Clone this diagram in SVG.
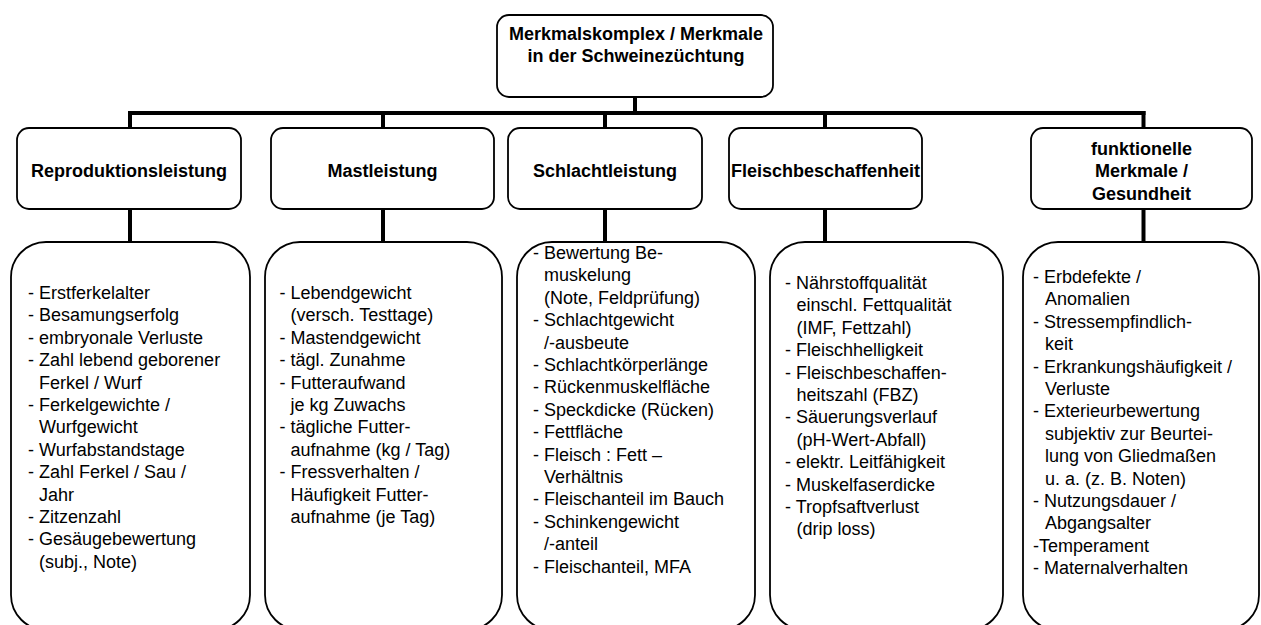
<svg xmlns="http://www.w3.org/2000/svg" width="1261" height="625" viewBox="0 0 1261 625">
  <style>
    .box { fill: #fff; stroke: #000; stroke-width: 1.8; }
    .link { stroke: #000; stroke-width: 4; fill: none; }
    .head { font-family: "Liberation Sans", Arial, sans-serif; font-size: 18px; font-weight: bold; fill: #000; text-anchor: middle; }
    .item { font-family: "Liberation Sans", Arial, sans-serif; font-size: 18px; fill: #000; }
  </style>
  <rect width="1261" height="625" fill="#fff"/>

  <!-- tree connectors -->
  <g id="connectors">
    <line class="link" x1="635" y1="97" x2="635" y2="113"/>
    <line class="link" x1="128" y1="113" x2="1145.5" y2="113"/>
    <line class="link" x1="130" y1="111" x2="130" y2="128"/>
    <line class="link" x1="383" y1="113" x2="383" y2="128"/>
    <line class="link" x1="605" y1="113" x2="605" y2="128"/>
    <line class="link" x1="825" y1="113" x2="825" y2="128"/>
    <line class="link" x1="1143.5" y1="111" x2="1143.5" y2="128"/>
    <line class="link" x1="130" y1="209" x2="130" y2="242"/>
    <line class="link" x1="383" y1="209" x2="383" y2="242"/>
    <line class="link" x1="605" y1="209" x2="605" y2="242"/>
    <line class="link" x1="825" y1="209" x2="825" y2="242"/>
    <line class="link" x1="1143.5" y1="209" x2="1143.5" y2="242"/>
  </g>

  <!-- root -->
  <g id="root">
    <rect class="box" x="497" y="15" width="276" height="82" rx="12"/>
    <text class="head"><tspan x="636" y="40">Merkmalskomplex / Merkmale</tspan><tspan x="636" y="62.4">in der Schweinezüchtung</tspan></text>
  </g>

  <!-- category headers -->
  <g id="reproduktion">
    <rect class="box" x="17" y="128" width="224" height="81" rx="12"/>
    <text class="head" x="129" y="177">Reproduktionsleistung</text>
  </g>
  <g id="mast">
    <rect class="box" x="271" y="128" width="223" height="81" rx="12"/>
    <text class="head" x="382.5" y="177">Mastleistung</text>
  </g>
  <g id="schlacht">
    <rect class="box" x="508" y="128" width="194" height="81" rx="12"/>
    <text class="head" x="605" y="177">Schlachtleistung</text>
  </g>
  <g id="fleisch">
    <rect class="box" x="729" y="128" width="193" height="81" rx="12"/>
    <text class="head" x="825.5" y="177">Fleischbeschaffenheit</text>
  </g>
  <g id="funktionell">
    <rect class="box" x="1031" y="128" width="221" height="81" rx="12"/>
    <text class="head"><tspan x="1141.5" y="155">funktionelle</tspan><tspan x="1141.5" y="177.4">Merkmale /</tspan><tspan x="1141.5" y="199.8">Gesundheit</tspan></text>
  </g>

  <!-- trait lists -->
  <g id="liste-reproduktion">
    <rect class="box" x="11" y="242" width="239" height="388" rx="35"/>
    <text class="item">
      <tspan x="28" y="299">- Erstferkelalter</tspan>
      <tspan x="28" dy="22.4">- Besamungserfolg</tspan>
      <tspan x="28" dy="22.4">- embryonale Verluste</tspan>
      <tspan x="28" dy="22.4">- Zahl lebend geborener</tspan>
      <tspan x="39" dy="22.4">Ferkel / Wurf</tspan>
      <tspan x="28" dy="22.4">- Ferkelgewichte /</tspan>
      <tspan x="39" dy="22.4">Wurfgewicht</tspan>
      <tspan x="28" dy="22.4">- Wurfabstandstage</tspan>
      <tspan x="28" dy="22.4">- Zahl Ferkel / Sau /</tspan>
      <tspan x="39" dy="22.4">Jahr</tspan>
      <tspan x="28" dy="22.4">- Zitzenzahl</tspan>
      <tspan x="28" dy="22.4">- Gesäugebewertung</tspan>
      <tspan x="39" dy="22.4">(subj., Note)</tspan>
    </text>
  </g>
  <g id="liste-mast">
    <rect class="box" x="265" y="242" width="237" height="388" rx="35"/>
    <text class="item">
      <tspan x="279.5" y="299">- Lebendgewicht</tspan>
      <tspan x="290.5" dy="22.4">(versch. Testtage)</tspan>
      <tspan x="279.5" dy="22.4">- Mastendgewicht</tspan>
      <tspan x="279.5" dy="22.4">- tägl. Zunahme</tspan>
      <tspan x="279.5" dy="22.4">- Futteraufwand</tspan>
      <tspan x="290.5" dy="22.4">je kg Zuwachs</tspan>
      <tspan x="279.5" dy="22.4">- tägliche Futter-</tspan>
      <tspan x="290.5" dy="22.4">aufnahme (kg / Tag)</tspan>
      <tspan x="279.5" dy="22.4">- Fressverhalten /</tspan>
      <tspan x="290.5" dy="22.4">Häufigkeit Futter-</tspan>
      <tspan x="290.5" dy="22.4">aufnahme (je Tag)</tspan>
    </text>
  </g>
  <g id="liste-schlacht">
    <rect class="box" x="517" y="242" width="238" height="388" rx="35"/>
    <text class="item">
      <tspan x="533" y="259">- Bewertung Be-</tspan>
      <tspan x="544" dy="22.4">muskelung</tspan>
      <tspan x="544" dy="22.4">(Note, Feldprüfung)</tspan>
      <tspan x="533" dy="22.4">- Schlachtgewicht</tspan>
      <tspan x="544" dy="22.4">/-ausbeute</tspan>
      <tspan x="533" dy="22.4">- Schlachtkörperlänge</tspan>
      <tspan x="533" dy="22.4">- Rückenmuskelfläche</tspan>
      <tspan x="533" dy="22.4">- Speckdicke (Rücken)</tspan>
      <tspan x="533" dy="22.4">- Fettfläche</tspan>
      <tspan x="533" dy="22.4">- Fleisch : Fett –</tspan>
      <tspan x="544" dy="22.4">Verhältnis</tspan>
      <tspan x="533" dy="22.4">- Fleischanteil im Bauch</tspan>
      <tspan x="533" dy="22.4">- Schinkengewicht</tspan>
      <tspan x="544" dy="22.4">/-anteil</tspan>
      <tspan x="533" dy="22.4">- Fleischanteil, MFA</tspan>
    </text>
  </g>
  <g id="liste-fleisch">
    <rect class="box" x="770" y="242" width="233" height="388" rx="35"/>
    <text class="item">
      <tspan x="785" y="289">- Nährstoffqualität</tspan>
      <tspan x="796.5" dy="22.4">einschl. Fettqualität</tspan>
      <tspan x="796.5" dy="22.4">(IMF, Fettzahl)</tspan>
      <tspan x="785" dy="22.4">- Fleischhelligkeit</tspan>
      <tspan x="785" dy="22.4">- Fleischbeschaffen-</tspan>
      <tspan x="796.5" dy="22.4">heitszahl (FBZ)</tspan>
      <tspan x="785" dy="22.4">- Säuerungsverlauf</tspan>
      <tspan x="796.5" dy="22.4">(pH-Wert-Abfall)</tspan>
      <tspan x="785" dy="22.4">- elektr. Leitfähigkeit</tspan>
      <tspan x="785" dy="22.4">- Muskelfaserdicke</tspan>
      <tspan x="785" dy="22.4">- Tropfsaftverlust</tspan>
      <tspan x="796.5" dy="22.4">(drip loss)</tspan>
    </text>
  </g>
  <g id="liste-funktionell">
    <rect class="box" x="1023" y="242" width="236" height="388" rx="35"/>
    <text class="item">
      <tspan x="1033" y="283">- Erbdefekte /</tspan>
      <tspan x="1045" dy="22.4">Anomalien</tspan>
      <tspan x="1033" dy="22.4">- Stressempfindlich-</tspan>
      <tspan x="1045" dy="22.4">keit</tspan>
      <tspan x="1033" dy="22.4">- Erkrankungshäufigkeit /</tspan>
      <tspan x="1045" dy="22.4">Verluste</tspan>
      <tspan x="1033" dy="22.4">- Exterieurbewertung</tspan>
      <tspan x="1045" dy="22.4">subjektiv zur Beurtei-</tspan>
      <tspan x="1045" dy="22.4">lung von Gliedmaßen</tspan>
      <tspan x="1045" dy="22.4">u. a. (z. B. Noten)</tspan>
      <tspan x="1033" dy="22.4">- Nutzungsdauer /</tspan>
      <tspan x="1045" dy="22.4">Abgangsalter</tspan>
      <tspan x="1033" dy="22.4">-Temperament</tspan>
      <tspan x="1033" dy="22.4">- Maternalverhalten</tspan>
    </text>
  </g>
</svg>
